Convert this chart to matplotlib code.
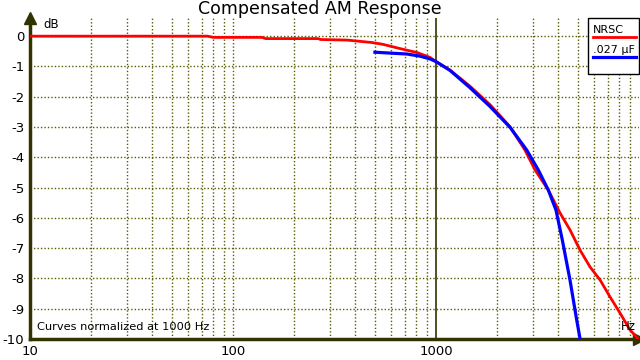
import matplotlib
matplotlib.use("Agg")
import matplotlib.pyplot as plt
from matplotlib.patches import Rectangle

nrsc_hz = [10, 75, 80, 139, 145, 262, 270, 365, 484, 548, 665, 806, 934, 1000, 1172, 1469, 1844, 2316, 2742,
           3077, 3573, 4085, 4575, 5120, 5738, 6430, 7200, 8060, 9030, 10000]
nrsc_db = [0, 0, -0.04, -0.04, -0.08, -0.08, -0.11, -0.13, -0.21, -0.27, -0.41, -0.54, -0.70, -0.84, -1.12, -1.65,
           -2.26, -2.99, -3.76, -4.42, -5.08, -5.84, -6.40, -7.06, -7.62, -8.05, -8.61, -9.14, -9.70, -10.02]
cap_hz = [500, 720, 834, 934, 1000, 1172, 1469, 1844, 2316, 2798, 3192, 3574, 3899, 4190, 4571, 4932, 5117]
cap_db = [-0.53, -0.59, -0.66, -0.75, -0.84, -1.13, -1.70, -2.32, -3.01, -3.76, -4.42, -5.08, -5.74, -6.73,
          -8.05, -9.37, -9.97]
y_ticks = [0, -1, -2, -3, -4, -5, -6, -7, -8, -9, -10]
x_ticks = [10, 100, 1000]

axis_col = "#333300"
grid_col = "#5a5a00"

fig = plt.figure(figsize=(6.4, 3.6), dpi=100)
ax = fig.add_axes([30/640, 21/360, 609/640, 321/360])
ax.set_xscale("log")
ax.set_xlim(10, 10000)
ax.set_ylim(-10, 0.6)

# grid: dotted, with a solid line at 1000 Hz
for dec in [10, 100, 1000]:
    for m in range(1, 10):
        f = dec * m
        if f == 10:
            continue
        if f == 1000:
            ax.axvline(f, color=axis_col, lw=1.2, zorder=1)
        else:
            ax.axvline(f, color=grid_col, lw=1, ls=(0, (1, 1.5)), zorder=1)
for y in y_ticks[:-1]:
    ax.axhline(y, color=grid_col, lw=1, ls=(0, (1, 1.5)), zorder=1)

ax.plot(nrsc_hz, nrsc_db, color="#ff0000", lw=2, zorder=3)
ax.plot(cap_hz, cap_db, color="#0000ff", lw=2.3, zorder=3)

for s in ["top", "right"]:
    ax.spines[s].set_visible(False)
for s in ["left", "bottom"]:
    ax.spines[s].set_color(axis_col)
    ax.spines[s].set_linewidth(2.5)
ax.plot(0, 1, marker="^", color=axis_col, ms=9, transform=ax.transAxes, clip_on=False)
ax.plot(1, 0, marker=">", color=axis_col, ms=9, transform=ax.transAxes, clip_on=False)

ax.set_yticks(y_ticks)
ax.set_yticklabels([str(v) for v in y_ticks])
ax.set_xticks(x_ticks)
ax.set_xticklabels([str(v) for v in x_ticks])
ax.minorticks_off()
ax.tick_params(length=0, labelsize=9.5, pad=4)

fig.text(43/640, 1 - 25/360, "dB", fontsize=8.5, va="center")
fig.text(628/640, 1 - 326/360, "Hz", fontsize=8.5, ha="center", va="center")
fig.text(37/640, 1 - 327/360, "Curves normalized at 1000 Hz", fontsize=8.2, va="center")
fig.text(0.5, 1 - 9/360, "Compensated AM Response", ha="center", va="center", fontsize=12.5)

# legend box
fig.add_artist(Rectangle((588/640, 1 - 74/360), 51/640, 56/360, facecolor="white", edgecolor="black",
                         lw=1, transform=fig.transFigure, zorder=5))
fig.text(593/640, 1 - 30/360, "NRSC", fontsize=8, va="center", zorder=6)
fig.add_artist(plt.Line2D([593/640, 636/640], [1 - 36.7/360, 1 - 36.7/360], color="#ff0000", lw=2,
                          transform=fig.transFigure, zorder=6))
fig.text(593/640, 1 - 50/360, ".027 µF", fontsize=8, va="center", zorder=6)
fig.add_artist(plt.Line2D([593/640, 636/640], [1 - 56.5/360, 1 - 56.5/360], color="#0000ff", lw=2.3,
                          transform=fig.transFigure, zorder=6))

plt.savefig("out.png", dpi=100)
